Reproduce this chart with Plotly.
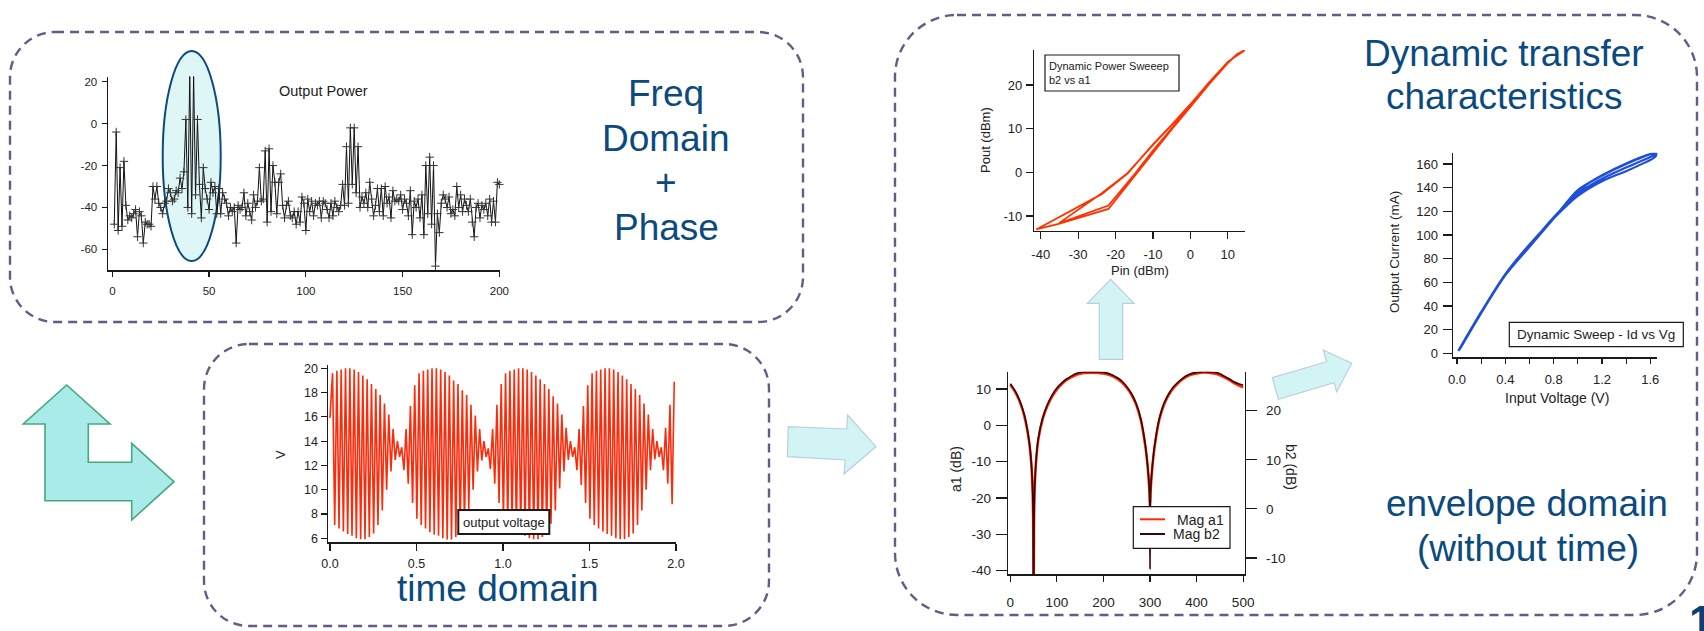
import plotly.graph_objects as go

W, H = 1704, 631
FONT = "Liberation Sans, Arial, Helvetica, sans-serif"
BLUE_TXT = "#0b4a7e"
INK = "#1a1a1a"

# ---------------- data ----------------
# Output power spectrum (bin index, dB)
spec_bin = list(range(1, 201))
spec_db = [
    -48, -4, -51, -21, -49, -18, -39, -46, -44, -45, -43, -41, -54, -42, -44, -57, -47, -48, -48, -49,
    -30, -36, -30, -38, -40, -43, -38, -37, -31, -33, -37, -36, -32, -33, -26, -31, -23, 2, -40, 23,
    -43, 23, -34, 2, -29, -45, -21, -31, -36, -41, -28, -33, -30, -43, -31, -43, -33, -36, -38, -44,
    -40, -42, -40, -57, -39, -41, -40, -33, -44, -38, -42, -46, -34, -40, -37, -21, -37, -36, -13, -47,
    -12, -42, -20, -28, -43, -28, -24, -39, -45, -39, -37, -44, -45, -42, -48, -42, -47, -35, -38, -51,
    -36, -42, -37, -44, -38, -39, -37, -45, -37, -38, -41, -45, -38, -44, -37, -40, -42, -39, -29, -39,
    -11, -38, -2, -29, -2, -33, -11, -40, -35, -38, -33, -40, -28, -36, -44, -39, -31, -42, -31, -44,
    -30, -38, -35, -45, -32, -37, -36, -37, -34, -41, -36, -38, -44, -32, -53, -37, -40, -36, -45, -34,
    -53, -20, -43, -16, -48, -20, -68, -43, -52, -38, -34, -36, -40, -35, -43, -41, -44, -30, -40, -34,
    -42, -36, -39, -42, -36, -47, -54, -40, -38, -45, -39, -41, -38, -44, -36, -47, -37, -47, -28, -29,
]

# Output voltage: carrier period and per-cycle crest / trough values (V)
carrier_period = 0.025
first_crest_t = 0.015
first_trough_t = 0.0275
v_start = 15.9
v_crest = [
    19.6, 19.8, 19.9, 20.0, 20.0, 19.9, 19.7, 19.4, 19.1, 18.7, 18.3, 17.8, 17.1, 16.2, 15.0, 14.0, 13.5, 15.0, 16.9, 18.6,
    19.6, 19.8, 19.9, 20.0, 20.0, 19.9, 19.7, 19.4, 19.0, 18.7, 18.2, 17.8, 17.0, 16.1, 15.0, 14.0, 13.4, 15.0, 17.0, 18.7,
    19.6, 19.8, 19.9, 20.0, 20.0, 19.9, 19.7, 19.4, 19.1, 18.7, 18.3, 17.7, 17.1, 16.2, 15.1, 14.0, 13.5, 15.0, 16.9, 18.6,
    19.6, 19.8, 19.9, 20.0, 20.0, 19.9, 19.7, 19.4, 19.1, 18.7, 18.3, 17.8, 17.1, 16.2, 15.0, 14.0, 13.5, 15.1, 17.0, 18.9,
]
v_trough = [
    7.1, 6.8, 6.55, 6.35, 6.2, 6.0, 5.92, 5.92, 6.1, 6.4, 7.1, 8.3, 10.0, 11.5, 12.45, 12.7, 11.6, 10.5, 8.9, 7.6,
    7.1, 6.8, 6.5, 6.3, 6.2, 6.0, 5.9, 5.9, 6.1, 6.4, 7.1, 8.4, 10.0, 11.5, 12.4, 12.7, 11.7, 10.5, 8.9, 7.6,
    7.1, 6.8, 6.55, 6.35, 6.2, 6.0, 5.92, 5.92, 6.1, 6.4, 7.2, 8.3, 10.1, 11.5, 12.45, 12.7, 11.6, 10.4, 8.9, 7.6,
    7.1, 6.8, 6.55, 6.35, 6.2, 6.0, 5.92, 5.92, 6.1, 6.4, 7.1, 8.3, 10.0, 11.6, 12.5, 12.7, 11.6, 10.5, 8.8, 7.6,
]

# Dynamic power sweep b2 vs a1 (dBm)
pin_dbm = [-41.2, -35.2, -21.9, -15.0, -10.0, -5.0, 0.0, 5.0, 10.0, 12.5, 14.6,
           10.0, 5.0, 0.0, -5.0, -10.0, -16.8, -23.7, -35.2,
           -21.9, -15.0, -10.0, -5.0, 0.0, 5.0, 10.0, 12.5, 14.6,
           10.0, 5.0, 0.0, -5.0, -10.0, -16.8, -23.7, -41.2]
pout_dbm = [-13.1, -11.8, -8.4, -1.0, 4.6, 9.8, 15.0, 20.2, 25.0, 27.0, 28.1,
            25.3, 20.5, 15.5, 10.8, 6.3, -0.2, -4.8, -11.7,
            -7.6, -0.5, 5.0, 10.1, 15.2, 20.3, 25.1, 27.1, 28.0,
            25.3, 20.6, 15.6, 10.9, 6.4, -0.3, -5.0, -13.1]

# Envelope magnitudes vs time index
mag_t = [0, 10, 20, 30, 40, 45, 48, 49, 50, 51, 52, 55, 60, 70, 80, 90, 100, 110, 120, 130,
         140, 150, 160, 175, 190, 200, 210, 220, 230, 240, 250, 260, 270, 280, 290, 295, 298, 299, 300, 301,
         302, 305, 310, 320, 330, 340, 350, 360, 370, 380, 390, 400, 410, 425, 440, 450, 460, 470, 480, 490,
         500]
mag_a1 = [11.2, 9.3, 6.6, 2.6, -4.2, -10.5, -18.5, -25.0, -48.0, -25.0, -18.5, -10.5, -4.0, 2.0, 5.5, 8.0, 9.9, 11.3, 12.4, 13.2,
          13.8, 14.2, 14.4, 14.5, 14.4, 14.3, 14.0, 13.5, 12.8, 11.8, 10.4, 8.5, 5.8, 1.6, -5.8, -11.5, -16.5, -19.0, -22.0, -19.0,
          -16.5, -11.5, -5.8, 1.6, 5.7, 8.3, 10.2, 11.6, 12.7, 13.5, 14.0, 14.3, 14.5, 14.5, 14.2, 13.8, 13.2, 12.5, 11.7, 11.0,
          10.5]
mag_b2 = [25.5, 24.1, 22.1, 19.2, 14.1, 9.5, 3.6, -1.5, -25.0, -1.5, 3.6, 9.5, 14.3, 18.7, 21.3, 23.2, 24.6, 25.6, 26.4, 27.0,
          27.5, 27.8, 27.9, 27.9, 27.9, 27.8, 27.6, 27.2, 26.7, 26.0, 24.9, 23.5, 21.5, 18.4, 13.0, 8.7, 5.0, 3.0, -12.2, 3.0,
          5.0, 8.7, 13.0, 18.4, 21.5, 23.4, 24.8, 25.8, 26.6, 27.2, 27.6, 27.8, 27.9, 27.9, 27.8, 27.5, 27.0, 26.5, 25.9, 25.5,
          25.2]

# Dynamic sweep Id vs Vg
vg_v = [0.01, 0.2, 0.4, 0.6, 0.8, 1.0, 1.2, 1.4, 1.55, 1.62, 1.66,
        1.6, 1.4, 1.2, 1.05, 0.9, 0.8, 0.6, 0.4, 0.2, 0.02,
        0.2, 0.4, 0.6, 0.8, 1.0, 1.2, 1.4, 1.6, 1.66,
        1.62, 1.4, 1.2, 1.0, 0.8, 0.6, 0.4, 0.2, 0.01]
id_ma = [2, 35, 67, 92, 114, 133, 145.5, 154, 161, 164.5, 169,
         168.5, 160.5, 150.5, 141, 126, 114, 90, 66, 34, 3,
         34, 66, 91, 115, 135, 147.5, 157, 166, 169.5,
         169, 160, 150, 138, 114, 91, 67, 35, 2]


# ---------------- helpers (pixel -> paper) ----------------
def P(x, y):
    return f"{x / W:.5f},{1 - y / H:.5f}"


def poly_path(pts):
    return "M" + " L".join(P(x, y) for x, y in pts) + " Z"


def rrect_path(x0, y0, x1, y1, r):
    k = 0.5523 * r
    return (f"M{P(x0 + r, y0)} L{P(x1 - r, y0)} "
            f"C{P(x1 - r + k, y0)} {P(x1, y0 + r - k)} {P(x1, y0 + r)} "
            f"L{P(x1, y1 - r)} C{P(x1, y1 - r + k)} {P(x1 - r + k, y1)} {P(x1 - r, y1)} "
            f"L{P(x0 + r, y1)} C{P(x0 + r - k, y1)} {P(x0, y1 - r + k)} {P(x0, y1 - r)} "
            f"L{P(x0, y0 + r)} C{P(x0, y0 + r - k)} {P(x0 + r - k, y0)} {P(x0 + r, y0)} Z")


def xdom(a, b):
    return [a / W, b / W]


def ydom(top, bottom):
    return [1 - bottom / H, 1 - top / H]


def hyph(vals, fmt="{:g}"):
    # tick text with a plain hyphen for negative numbers
    return [fmt.format(v) for v in vals]


def axis(dom, rng, tickvals, ticktext=None, size=12, ticklen=5, standoff=0, **kw):
    d = dict(domain=dom, range=rng, tickvals=tickvals, showline=True, linecolor=INK,
             linewidth=1.2, ticks="outside", ticklen=ticklen, tickwidth=1.2, tickcolor=INK,
             showgrid=False, zeroline=False, fixedrange=True, ticklabelstandoff=standoff,
             tickfont=dict(family=FONT, size=size, color="#222"),
             ticktext=ticktext if ticktext is not None else hyph(tickvals))
    d.update(kw)
    return d


def label(text, x, y, size, color="#222", angle=0, xanchor="center", yanchor="middle", align="center"):
    return dict(text=text, x=x / W, y=1 - y / H, xref="paper", yref="paper", showarrow=False,
                xanchor=xanchor, yanchor=yanchor, textangle=angle, align=align, borderpad=0,
                font=dict(family=FONT, size=size, color=color))


# ---------------- traces ----------------
fig = go.Figure()

fig.add_trace(go.Scatter(
    x=spec_bin, y=spec_db, mode="lines+markers", xaxis="x", yaxis="y",
    line=dict(color="#111", width=1),
    marker=dict(symbol="cross-thin", size=6, line=dict(color="#333", width=1)),
    cliponaxis=False))

t_s, v_out = [0.0], [v_start]
for k in range(len(v_crest)):
    t_s.append(first_crest_t + carrier_period * k)
    v_out.append(v_crest[k])
    tt = first_trough_t + carrier_period * k
    if tt <= 2.0:
        t_s.append(tt)
        v_out.append(v_trough[k])
fig.add_trace(go.Scatter(x=t_s, y=v_out, mode="lines", xaxis="x2", yaxis="y2",
                         line=dict(color="#ff2a0a", width=1.6)))

fig.add_trace(go.Scatter(x=pin_dbm, y=pout_dbm, mode="lines", xaxis="x3", yaxis="y3",
                         line=dict(color="#ff3300", width=1.8)))

fig.add_trace(go.Scatter(x=mag_t, y=mag_a1, mode="lines", xaxis="x4", yaxis="y4",
                         line=dict(color="#ff2a00", width=2.6, shape="spline", smoothing=0.6)))
fig.add_trace(go.Scatter(x=mag_t, y=mag_b2, mode="lines", xaxis="x4", yaxis="y5",
                         line=dict(color="#3a0505", width=1.6, shape="spline", smoothing=0.6)))

fig.add_trace(go.Scatter(x=vg_v, y=id_ma, mode="lines", xaxis="x5", yaxis="y6",
                         line=dict(color="#1f4fd8", width=2.2, shape="spline", smoothing=0.8)))

# ---------------- axes ----------------
layout_axes = dict(
    xaxis=axis(xdom(107.7, 500.3), [-2.4, 200.5], [0, 50, 100, 150, 200], size=11.5, standoff=5, anchor="y"),
    yaxis=axis(ydom(76.5, 270.3), [-70, 22.5], [-60, -40, -20, 0, 20], size=11.5, standoff=2, anchor="x"),
    xaxis2=axis(xdom(327.7, 676), [-0.013, 2.0], [0, 0.5, 1.0, 1.5, 2.0],
                ["0.0", "0.5", "1.0", "1.5", "2.0"], size=12.5, ticklen=7, standoff=2, anchor="y2"),
    yaxis2=axis(ydom(365, 542.3), [5.67, 20.27], [6, 8, 10, 12, 14, 16, 18, 20], size=12.5,
                ticklen=6, standoff=0, anchor="x2"),
    xaxis3=axis(xdom(1034, 1245), [-41.8, 14.6], [-40, -30, -20, -10, 0, 10], size=13,
                ticklen=7, standoff=4, anchor="y3"),
    yaxis3=axis(ydom(50.1, 230.8), [-13.4, 28], [-10, 0, 10, 20], size=13, ticklen=7,
                standoff=1, anchor="x3"),
    xaxis4=axis(xdom(1008, 1245), [-5, 504], [0, 100, 200, 300, 400, 500], size=13.5,
                ticklen=6, standoff=9, anchor="y4"),
    yaxis4=axis(ydom(371.7, 574.3), [-41, 14.77], [-40, -30, -20, -10, 0, 10], size=13.5,
                ticklen=11, standoff=2, anchor="x4"),
    yaxis5=axis(ydom(371.7, 574.3), [-13.32, 27.94], [-10, 0, 10, 20], size=13.5,
                ticklen=11, standoff=6, anchor="x4", overlaying="y4", side="right"),
    xaxis5=axis(xdom(1452.7, 1657.3), [-0.036, 1.658],
                [0, 0.2, 0.4, 0.6, 0.8, 1.0, 1.2, 1.4, 1.6],
                ["0.0", "", "0.4", "", "0.8", "", "1.2", "", "1.6"], size=13, ticklen=5,
                standoff=5, anchor="y6"),
    yaxis6=axis(ydom(152.7, 357.3), [-3.4, 169.6], [0, 20, 40, 60, 80, 100, 120, 140, 160],
                size=13, ticklen=9, standoff=2, anchor="x5"),
)

# ---------------- decorations ----------------
DASH = "#5e5e86"
shapes = []
for (x0, y0, x1, y1, r) in [(10, 32, 803, 322, 45), (204, 344, 769, 626, 45), (895, 15, 1697, 615, 62)]:
    shapes.append(dict(type="path", xref="paper", yref="paper", path=rrect_path(x0, y0, x1, y1, r),
                       line=dict(color=DASH, width=2.4, dash="9px,6px"), layer="below"))

# highlight around the carrier tones
shapes.append(dict(type="circle", xref="paper", yref="paper", layer="below",
                   x0=162.7 / W, x1=220.7 / W, y0=1 - 261 / H, y1=1 - 51 / H,
                   fillcolor="#dff6f7", line=dict(color="#0d4a7e", width=2)))

# block arrows
arrows = [
    ([(66.7, 385), (110, 424), (88.3, 424), (88.3, 462.3), (131.7, 462.3), (131.7, 443.3),
      (174, 481.7), (131.7, 520), (131.7, 500.7), (45, 500.7), (45, 424), (23.3, 424)],
     "#a8ebe8", "#45a97c", 1.6),
    ([(788.3, 426.7), (846.7, 429), (847.7, 415), (876, 446.7), (844, 474), (845.3, 460), (787.3, 456.7)],
     "#d2f4f5", "#b9cfdd", 1.2),
    ([(1099.3, 359.3), (1099.3, 303.3), (1087.3, 303.3), (1110.7, 279.3), (1134, 303.3),
      (1122.7, 303.3), (1122.7, 359.3)],
     "#d2f4f5", "#b9cfdd", 1.2),
    ([(1272.3, 377.7), (1326.7, 361.7), (1323.3, 350), (1351.7, 363.3), (1336.7, 391.7),
      (1334, 382.7), (1278.3, 399.3)],
     "#d2f4f5", "#b9cfdd", 1.2),
]
for pts, fill, edge, lw in arrows:
    shapes.append(dict(type="path", xref="paper", yref="paper", path=poly_path(pts),
                       fillcolor=fill, line=dict(color=edge, width=lw)))


def box(x0, y0, x1, y1, lw=1.2):
    return dict(type="rect", xref="paper", yref="paper", x0=x0 / W, x1=x1 / W,
                y0=1 - y1 / H, y1=1 - y0 / H, fillcolor="white", line=dict(color=INK, width=lw))


shapes += [
    box(458.3, 510, 549.3, 534, 2),
    box(1045, 55, 1179, 91),
    box(1133.3, 506.7, 1230, 548.3),
    box(1509.3, 322.3, 1683.3, 346.7),
    dict(type="line", xref="paper", yref="paper", x0=1140 / W, x1=1165 / W,
         y0=1 - 519.3 / H, y1=1 - 519.3 / H, line=dict(color="#ff2a00", width=2)),
    dict(type="line", xref="paper", yref="paper", x0=1140 / W, x1=1165 / W,
         y0=1 - 534 / H, y1=1 - 534 / H, line=dict(color="#3a0505", width=2)),
]

annotations = [
    # slide headings
    label("Freq", 666, 94, 37, BLUE_TXT),
    label("Domain", 666, 138, 37, BLUE_TXT),
    label("+", 666, 183, 37, BLUE_TXT),
    label("Phase", 666, 228, 37, BLUE_TXT),
    label("time domain", 498, 588, 37, BLUE_TXT),
    label("Dynamic transfer", 1504, 53, 37, BLUE_TXT),
    label("characteristics", 1504, 97, 37, BLUE_TXT),
    label("envelope domain", 1527, 503, 37, BLUE_TXT),
    label("(without time)", 1528, 548, 37, BLUE_TXT),
    label("<b>1</b>", 1688, 596, 44, "#0b3f75", xanchor="left", yanchor="top"),
    # plot labels
    label("Output Power", 323, 91, 14.5),
    label("V", 280, 455, 13, angle=-90),
    label("output voltage", 503.8, 522, 13),
    label("Dynamic Power Sweeep<br>b2 vs a1", 1048, 73, 11, xanchor="left", align="left"),
    label("Pout (dBm)", 985, 140, 13, angle=-90),
    label("Pin (dBm)", 1140, 270, 13),
    label("a1 (dB)", 956, 469, 14, angle=-90),
    label("b2 (dB)", 1291, 467, 14, angle=90),
    label("Mag a1", 1225, 519.5, 14, xanchor="right"),
    label("Mag b2", 1221, 534, 14, xanchor="right"),
    label("Output Current (mA)", 1395, 252, 13.5, angle=-90),
    label("Input Voltage (V)", 1557, 398, 14),
    label("Dynamic Sweep - Id vs Vg", 1596, 334.5, 13.5),
]

fig.update_layout(
    width=W, height=H, autosize=False, margin=dict(l=0, r=0, t=0, b=0, pad=0),
    paper_bgcolor="white", plot_bgcolor="rgba(0,0,0,0)", showlegend=False,
    template="none", shapes=shapes, annotations=annotations,
    font=dict(family=FONT, color="#222"),
    **layout_axes,
)

fig.write_html("out.html", config={"displayModeBar": False, "staticPlot": True})
